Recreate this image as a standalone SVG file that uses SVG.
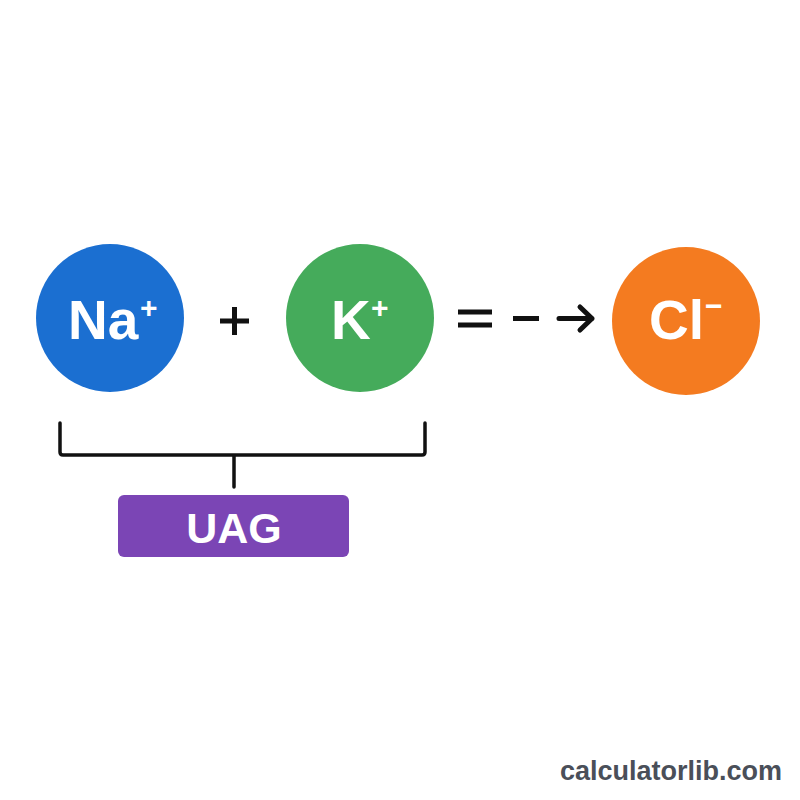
<svg xmlns="http://www.w3.org/2000/svg" width="800" height="800" viewBox="0 0 800 800">
<style>
.lbl{font-family:"Liberation Sans",Arial,sans-serif;font-weight:bold;fill:#ffffff}
.sup{font-family:"Liberation Sans",Arial,sans-serif;font-weight:bold;fill:#ffffff}
.op{stroke:#111111;stroke-width:5;stroke-linecap:butt;fill:none}
.br{stroke:#111111;stroke-width:3.5;fill:none;stroke-linejoin:round;stroke-linecap:round}
</style>
<rect width="800" height="800" fill="#ffffff"/>
<g id="na">
<circle cx="110" cy="318" r="74" fill="#1B6FD1"/>
<text class="lbl" x="68" y="339" font-size="55">Na</text>
<text class="sup" x="140" y="318" font-size="30">+</text>
</g>
<g id="plus">
<path class="op" d="M220 321 H249 M234.5 307 V335" stroke-width="6"/>
</g>
<g id="k">
<circle cx="360" cy="318" r="74" fill="#45AB5B"/>
<text class="lbl" x="331" y="339" font-size="55">K</text>
<text class="sup" x="371" y="318" font-size="30">+</text>
</g>
<g id="cl">
<circle cx="686" cy="321" r="74" fill="#F47B20"/>
<text class="lbl" x="649" y="339" font-size="55">Cl</text>
<text class="sup" x="705" y="316" font-size="30">−</text>
</g>
<g id="connectors">
<path class="op" d="M458 312 H492 M458 325 H492" stroke-width="4.5"/>
<path class="op" d="M513 318.5 H539" stroke-width="4.5"/>
<path class="op" d="M559 318.5 H592 M580 307 L592 318.5 L580 330" stroke-width="4" style="stroke-linejoin:round;stroke-linecap:round"/>
<path class="br" d="M60 423 V452 Q60 455 63 455 H422 Q425 455 425 452 V423 M234 455 V487"/>
</g>
<g id="uag">
<rect x="118" y="495" width="231" height="62" rx="6" fill="#7B45B5"/>
<text class="lbl" x="234" y="543" font-size="43" text-anchor="middle">UAG</text>
</g>
<text x="782" y="780" font-size="27" text-anchor="end" font-family="'Liberation Sans',Arial,sans-serif" font-weight="bold" fill="#4A4F59">calculatorlib.com</text>
</svg>
